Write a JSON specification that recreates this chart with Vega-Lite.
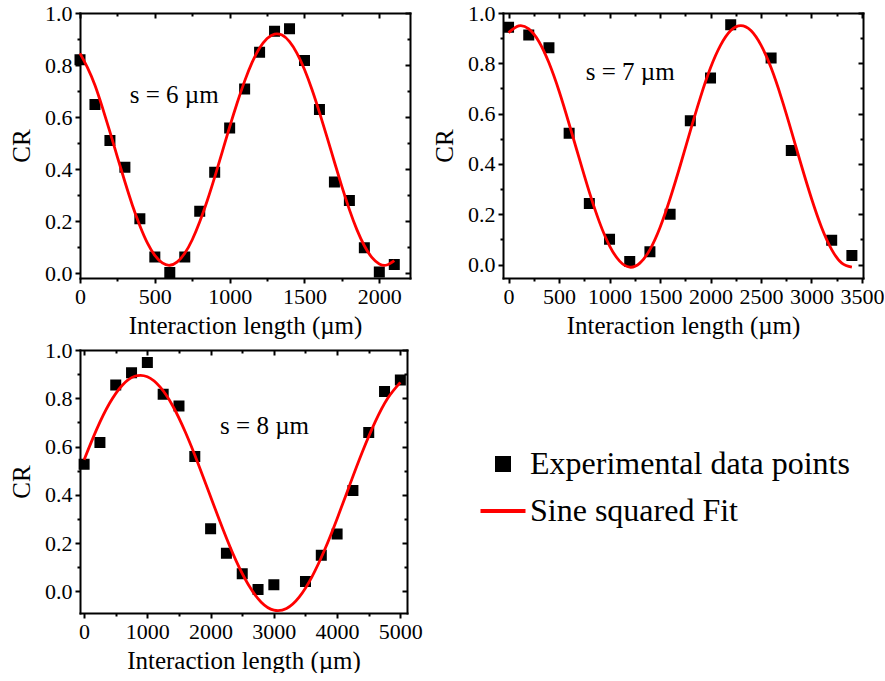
{
  "$schema": "https://vega.github.io/schema/vega-lite/v6.json",
  "padding": {"left": 9, "top": 2, "right": 0, "bottom": 0},
  "background": "white",
  "spacing": 1,
  "config": {
    "font": "Liberation Serif",
    "view": {"stroke": null},
    "axis": {
      "labelFont": "Liberation Serif", "titleFont": "Liberation Serif",
      "labelFontSize": 22, "titleFontSize": 25, "titleFontWeight": "normal",
      "labelColor": "black", "titleColor": "black",
      "domainColor": "black", "tickColor": "black",
      "domainWidth": 2, "tickWidth": 2, "grid": false,
      "labelFlush": false, "labelOverlap": false, "labelBound": false,
      "labelPadding": 3, "domainCap": "square"
    },
    "legend": {"labelFont": "Liberation Serif", "symbolStrokeWidth": 4}
  },
  "datasets": {
    "p1pts": [
      {"L": 0, "CR": 0.82}, {"L": 100, "CR": 0.648}, {"L": 200, "CR": 0.51}, {"L": 300, "CR": 0.407},
      {"L": 400, "CR": 0.209}, {"L": 500, "CR": 0.062}, {"L": 600, "CR": 0.002}, {"L": 700, "CR": 0.062},
      {"L": 800, "CR": 0.238}, {"L": 900, "CR": 0.388}, {"L": 1000, "CR": 0.558}, {"L": 1100, "CR": 0.708},
      {"L": 1200, "CR": 0.849}, {"L": 1300, "CR": 0.93}, {"L": 1400, "CR": 0.939}, {"L": 1500, "CR": 0.817},
      {"L": 1600, "CR": 0.629}, {"L": 1700, "CR": 0.35}, {"L": 1800, "CR": 0.279}, {"L": 1900, "CR": 0.097},
      {"L": 2000, "CR": 0.004}, {"L": 2100, "CR": 0.033}
    ],
    "p1fit": [
      {"L": 0, "CR": 0.845}, {"L": 50, "CR": 0.79}, {"L": 100, "CR": 0.722}, {"L": 150, "CR": 0.636},
      {"L": 200, "CR": 0.543}, {"L": 250, "CR": 0.446}, {"L": 300, "CR": 0.351}, {"L": 350, "CR": 0.261},
      {"L": 400, "CR": 0.182}, {"L": 450, "CR": 0.116}, {"L": 500, "CR": 0.068}, {"L": 550, "CR": 0.039},
      {"L": 600, "CR": 0.030}, {"L": 650, "CR": 0.043}, {"L": 700, "CR": 0.076}, {"L": 750, "CR": 0.128},
      {"L": 800, "CR": 0.197}, {"L": 850, "CR": 0.278}, {"L": 900, "CR": 0.369}, {"L": 950, "CR": 0.465},
      {"L": 1000, "CR": 0.562}, {"L": 1050, "CR": 0.654}, {"L": 1100, "CR": 0.738}, {"L": 1150, "CR": 0.81},
      {"L": 1200, "CR": 0.865}, {"L": 1250, "CR": 0.902}, {"L": 1300, "CR": 0.919}, {"L": 1350, "CR": 0.915},
      {"L": 1400, "CR": 0.89}, {"L": 1450, "CR": 0.845}, {"L": 1500, "CR": 0.783}, {"L": 1550, "CR": 0.706},
      {"L": 1600, "CR": 0.618}, {"L": 1650, "CR": 0.524}, {"L": 1700, "CR": 0.427}, {"L": 1750, "CR": 0.332},
      {"L": 1800, "CR": 0.244}, {"L": 1850, "CR": 0.167}, {"L": 1900, "CR": 0.105}, {"L": 1950, "CR": 0.06},
      {"L": 2000, "CR": 0.035}, {"L": 2050, "CR": 0.031}, {"L": 2100, "CR": 0.048}
    ],
    "p2pts": [
      {"L": 0, "CR": 0.943}, {"L": 200, "CR": 0.913}, {"L": 400, "CR": 0.862}, {"L": 600, "CR": 0.522},
      {"L": 800, "CR": 0.243}, {"L": 1000, "CR": 0.101}, {"L": 1200, "CR": 0.013}, {"L": 1400, "CR": 0.051},
      {"L": 1600, "CR": 0.2}, {"L": 1800, "CR": 0.572}, {"L": 2000, "CR": 0.742}, {"L": 2200, "CR": 0.953},
      {"L": 2600, "CR": 0.821}, {"L": 2800, "CR": 0.454}, {"L": 3200, "CR": 0.097}, {"L": 3400, "CR": 0.036}
    ],
    "p2fit": [
      {"L": 0, "CR": 0.922}, {"L": 100, "CR": 0.949}, {"L": 200, "CR": 0.937}, {"L": 300, "CR": 0.887},
      {"L": 400, "CR": 0.802}, {"L": 500, "CR": 0.69}, {"L": 600, "CR": 0.559}, {"L": 700, "CR": 0.422},
      {"L": 800, "CR": 0.288}, {"L": 900, "CR": 0.169}, {"L": 1000, "CR": 0.075}, {"L": 1100, "CR": 0.014},
      {"L": 1200, "CR": -0.01}, {"L": 1300, "CR": 0.006}, {"L": 1400, "CR": 0.06}, {"L": 1500, "CR": 0.148},
      {"L": 1600, "CR": 0.263}, {"L": 1700, "CR": 0.394}, {"L": 1800, "CR": 0.532}, {"L": 1900, "CR": 0.665},
      {"L": 2000, "CR": 0.782}, {"L": 2100, "CR": 0.872}, {"L": 2200, "CR": 0.93}, {"L": 2300, "CR": 0.95},
      {"L": 2400, "CR": 0.93}, {"L": 2500, "CR": 0.872}, {"L": 2600, "CR": 0.782}, {"L": 2700, "CR": 0.665},
      {"L": 2800, "CR": 0.532}, {"L": 2900, "CR": 0.394}, {"L": 3000, "CR": 0.263}, {"L": 3100, "CR": 0.148},
      {"L": 3200, "CR": 0.06}, {"L": 3300, "CR": 0.006}, {"L": 3400, "CR": -0.01}
    ],
    "p3pts": [
      {"L": 0, "CR": 0.527}, {"L": 250, "CR": 0.617}, {"L": 500, "CR": 0.855}, {"L": 750, "CR": 0.906},
      {"L": 1000, "CR": 0.948}, {"L": 1250, "CR": 0.817}, {"L": 1500, "CR": 0.768}, {"L": 1750, "CR": 0.559},
      {"L": 2000, "CR": 0.259}, {"L": 2250, "CR": 0.158}, {"L": 2500, "CR": 0.073}, {"L": 2750, "CR": 0.007},
      {"L": 3000, "CR": 0.027}, {"L": 3500, "CR": 0.041}, {"L": 3750, "CR": 0.149}, {"L": 4000, "CR": 0.237},
      {"L": 4250, "CR": 0.418}, {"L": 4500, "CR": 0.658}, {"L": 4750, "CR": 0.828}, {"L": 5000, "CR": 0.876}
    ],
    "p3fit": [
      {"L": 0, "CR": 0.545}, {"L": 200, "CR": 0.672}, {"L": 400, "CR": 0.778}, {"L": 600, "CR": 0.853},
      {"L": 800, "CR": 0.891}, {"L": 1000, "CR": 0.889}, {"L": 1200, "CR": 0.847}, {"L": 1400, "CR": 0.769},
      {"L": 1600, "CR": 0.66}, {"L": 1800, "CR": 0.531}, {"L": 2000, "CR": 0.392}, {"L": 2200, "CR": 0.254},
      {"L": 2400, "CR": 0.128}, {"L": 2600, "CR": 0.026}, {"L": 2800, "CR": -0.045}, {"L": 3000, "CR": -0.078},
      {"L": 3200, "CR": -0.071}, {"L": 3400, "CR": -0.024}, {"L": 3600, "CR": 0.059}, {"L": 3800, "CR": 0.17},
      {"L": 4000, "CR": 0.301}, {"L": 4200, "CR": 0.441}, {"L": 4400, "CR": 0.578}, {"L": 4600, "CR": 0.701},
      {"L": 4800, "CR": 0.8}, {"L": 5000, "CR": 0.866}
    ]
  },
  "vconcat": [
    {
      "hconcat": [
        {
          "width": 330, "height": 265,
          "resolve": {"axis": {"x": "independent", "y": "independent"}},
          "layer": [
            {
              "data": {"name": "p1pts"},
              "mark": {"type": "point", "shape": "square", "filled": true, "color": "black", "stroke": "black", "strokeWidth": 4, "size": 49, "opacity": 1},
              "encoding": {
                "x": {"field": "L", "type": "quantitative", "scale": {"domain": [0, 2205], "nice": false, "zero": false},
                  "axis": {"orient": "bottom", "values": [0, 500, 1000, 1500, 2000], "format": "d", "title": "Interaction length (µm)", "tickSize": 5, "titlePadding": 6}},
                "y": {"field": "CR", "type": "quantitative", "scale": {"domain": [-0.019, 1.0], "nice": false, "zero": false},
                  "axis": {"orient": "left", "values": [0, 0.2, 0.4, 0.6, 0.8, 1.0], "format": ".1f", "title": "CR", "tickSize": 5, "titlePadding": 10}}
              }
            },
            {
              "data": {"name": "p1fit"},
              "mark": {"type": "line", "color": "red", "strokeWidth": 2.8, "interpolate": "natural"},
              "encoding": {
                "x": {"field": "L", "type": "quantitative", "axis": {"orient": "top", "values": [0, 500, 1000, 1500, 2000], "labels": false, "title": null, "tickSize": -5}},
                "y": {"field": "CR", "type": "quantitative", "axis": {"orient": "right", "values": [0, 0.2, 0.4, 0.6, 0.8, 1.0], "labels": false, "title": null, "tickSize": -5}}
              }
            },
            {
              "data": {"values": [{}]},
              "mark": {"type": "text", "text": "s = 6 µm", "align": "left", "baseline": "middle", "fontSize": 25, "font": "Liberation Serif", "color": "black"},
              "encoding": {
                "x": {"datum": 332, "type": "quantitative", "axis": {"orient": "bottom", "values": [250, 750, 1250, 1750], "labels": false, "title": null, "domain": false, "tickSize": 3}},
                "y": {"datum": 0.686, "type": "quantitative", "axis": {"orient": "left", "values": [0.1, 0.3, 0.5, 0.7, 0.9], "labels": false, "title": null, "domain": false, "tickSize": 3}}
              }
            },
            {
              "data": {"values": [{}]},
              "mark": {"type": "text", "text": " "},
              "encoding": {
                "x": {"datum": 1000, "type": "quantitative", "axis": {"orient": "top", "values": [250, 750, 1250, 1750], "labels": false, "title": null, "domain": false, "tickSize": -3}},
                "y": {"datum": 0.5, "type": "quantitative", "axis": {"orient": "right", "values": [0.1, 0.3, 0.5, 0.7, 0.9], "labels": false, "title": null, "domain": false, "tickSize": -3}}
              }
            }
          ]
        },
        {
          "width": 360, "height": 265,
          "resolve": {"axis": {"x": "independent", "y": "independent"}},
          "layer": [
            {
              "data": {"name": "p2pts"},
              "mark": {"type": "point", "shape": "square", "filled": true, "color": "black", "stroke": "black", "strokeWidth": 4, "size": 49, "opacity": 1},
              "encoding": {
                "x": {"field": "L", "type": "quantitative", "scale": {"domain": [-55, 3510], "nice": false, "zero": false},
                  "axis": {"orient": "bottom", "values": [0, 500, 1000, 1500, 2000, 2500, 3000, 3500], "format": "d", "title": "Interaction length (µm)", "tickSize": 5, "titlePadding": 6}},
                "y": {"field": "CR", "type": "quantitative", "scale": {"domain": [-0.053, 1.0], "nice": false, "zero": false},
                  "axis": {"orient": "left", "values": [0, 0.2, 0.4, 0.6, 0.8, 1.0], "format": ".1f", "title": "CR", "tickSize": 5, "titlePadding": 10}}
              }
            },
            {
              "data": {"name": "p2fit"},
              "mark": {"type": "line", "color": "red", "strokeWidth": 2.8, "interpolate": "natural"},
              "encoding": {
                "x": {"field": "L", "type": "quantitative", "axis": {"orient": "top", "values": [0, 500, 1000, 1500, 2000, 2500, 3000, 3500], "labels": false, "title": null, "tickSize": -5}},
                "y": {"field": "CR", "type": "quantitative", "axis": {"orient": "right", "values": [0, 0.2, 0.4, 0.6, 0.8, 1.0], "labels": false, "title": null, "tickSize": -5}}
              }
            },
            {
              "data": {"values": [{}]},
              "mark": {"type": "text", "text": "s = 7 µm", "align": "left", "baseline": "middle", "fontSize": 25, "font": "Liberation Serif", "color": "black"},
              "encoding": {
                "x": {"datum": 764, "type": "quantitative", "axis": {"orient": "bottom", "values": [250, 750, 1250, 1750, 2250, 2750, 3250], "labels": false, "title": null, "domain": false, "tickSize": 3}},
                "y": {"datum": 0.766, "type": "quantitative", "axis": {"orient": "left", "values": [0.1, 0.3, 0.5, 0.7, 0.9], "labels": false, "title": null, "domain": false, "tickSize": 3}}
              }
            },
            {
              "data": {"values": [{}]},
              "mark": {"type": "text", "text": " "},
              "encoding": {
                "x": {"datum": 1000, "type": "quantitative", "axis": {"orient": "top", "values": [250, 750, 1250, 1750, 2250, 2750, 3250], "labels": false, "title": null, "domain": false, "tickSize": -3}},
                "y": {"datum": 0.5, "type": "quantitative", "axis": {"orient": "right", "values": [0.1, 0.3, 0.5, 0.7, 0.9], "labels": false, "title": null, "domain": false, "tickSize": -3}}
              }
            }
          ]
        }
      ],
      "spacing": 21
    },
    {
      "width": 327, "height": 263,
      "resolve": {"axis": {"x": "independent", "y": "independent"}},
      "layer": [
        {
          "data": {"name": "p3pts"},
          "mark": {"type": "point", "filled": true, "strokeWidth": 4, "size": 49, "opacity": 1},
          "encoding": {
            "x": {"field": "L", "type": "quantitative", "scale": {"domain": [-65, 5105], "nice": false, "zero": false},
              "axis": {"orient": "bottom", "values": [0, 1000, 2000, 3000, 4000, 5000], "format": "d", "title": "Interaction length (µm)", "tickSize": 5, "titlePadding": 6}},
            "y": {"field": "CR", "type": "quantitative", "scale": {"domain": [-0.09, 1.0], "nice": false, "zero": false},
              "axis": {"orient": "left", "values": [0, 0.2, 0.4, 0.6, 0.8, 1.0], "format": ".1f", "title": "CR", "tickSize": 5, "titlePadding": 10}},
            "fill": {"datum": "Experimental data points", "type": "nominal",
              "scale": {"domain": ["Experimental data points", "Sine squared Fit"], "range": ["black", "red"]},
              "legend": {"title": null, "orient": "none", "legendX": 407, "legendY": 435, "labelFontSize": 32, "labelColor": "black", "labelLimit": 600, "labelOffset": 11, "rowPadding": 15, "symbolSize": 144, "symbolStrokeWidth": 4}},
            "stroke": {"datum": "Experimental data points", "type": "nominal",
              "scale": {"domain": ["Experimental data points", "Sine squared Fit"], "range": ["black", "red"]},
              "legend": {"title": null, "orient": "none", "legendX": 407, "legendY": 435, "labelFontSize": 32, "labelColor": "black", "labelLimit": 600, "labelOffset": 11, "rowPadding": 15, "symbolSize": 144, "symbolStrokeWidth": 4}},
            "shape": {"datum": "Experimental data points", "type": "nominal",
              "scale": {"domain": ["Experimental data points", "Sine squared Fit"], "range": ["square", "M-3.75,0H3.75"]},
              "legend": {"title": null, "orient": "none", "legendX": 407, "legendY": 435, "labelFontSize": 32, "labelColor": "black", "labelLimit": 600, "labelOffset": 11, "rowPadding": 15, "symbolSize": 144, "symbolStrokeWidth": 4}}
          }
        },
        {
          "data": {"name": "p3fit"},
          "mark": {"type": "line", "color": "red", "strokeWidth": 2.8, "interpolate": "natural"},
          "encoding": {
            "x": {"field": "L", "type": "quantitative", "axis": {"orient": "top", "values": [0, 1000, 2000, 3000, 4000, 5000], "labels": false, "title": null, "tickSize": -5}},
            "y": {"field": "CR", "type": "quantitative", "axis": {"orient": "right", "values": [0, 0.2, 0.4, 0.6, 0.8, 1.0], "labels": false, "title": null, "tickSize": -5}}
          }
        },
        {
          "data": {"values": [{}]},
          "mark": {"type": "text", "text": "s = 8 µm", "align": "left", "baseline": "middle", "fontSize": 25, "font": "Liberation Serif", "color": "black"},
          "encoding": {
            "x": {"datum": 2150, "type": "quantitative", "axis": {"orient": "bottom", "values": [500, 1500, 2500, 3500, 4500], "labels": false, "title": null, "domain": false, "tickSize": 3}},
            "y": {"datum": 0.684, "type": "quantitative", "axis": {"orient": "left", "values": [0.1, 0.3, 0.5, 0.7, 0.9], "labels": false, "title": null, "domain": false, "tickSize": 3}}
          }
        },
        {
          "data": {"values": [{}]},
          "mark": {"type": "text", "text": " "},
          "encoding": {
            "x": {"datum": 1000, "type": "quantitative", "axis": {"orient": "top", "values": [500, 1500, 2500, 3500, 4500], "labels": false, "title": null, "domain": false, "tickSize": -3}},
            "y": {"datum": 0.5, "type": "quantitative", "axis": {"orient": "right", "values": [0.1, 0.3, 0.5, 0.7, 0.9], "labels": false, "title": null, "domain": false, "tickSize": -3}}
          }
        }
      ]
    }
  ]
}
